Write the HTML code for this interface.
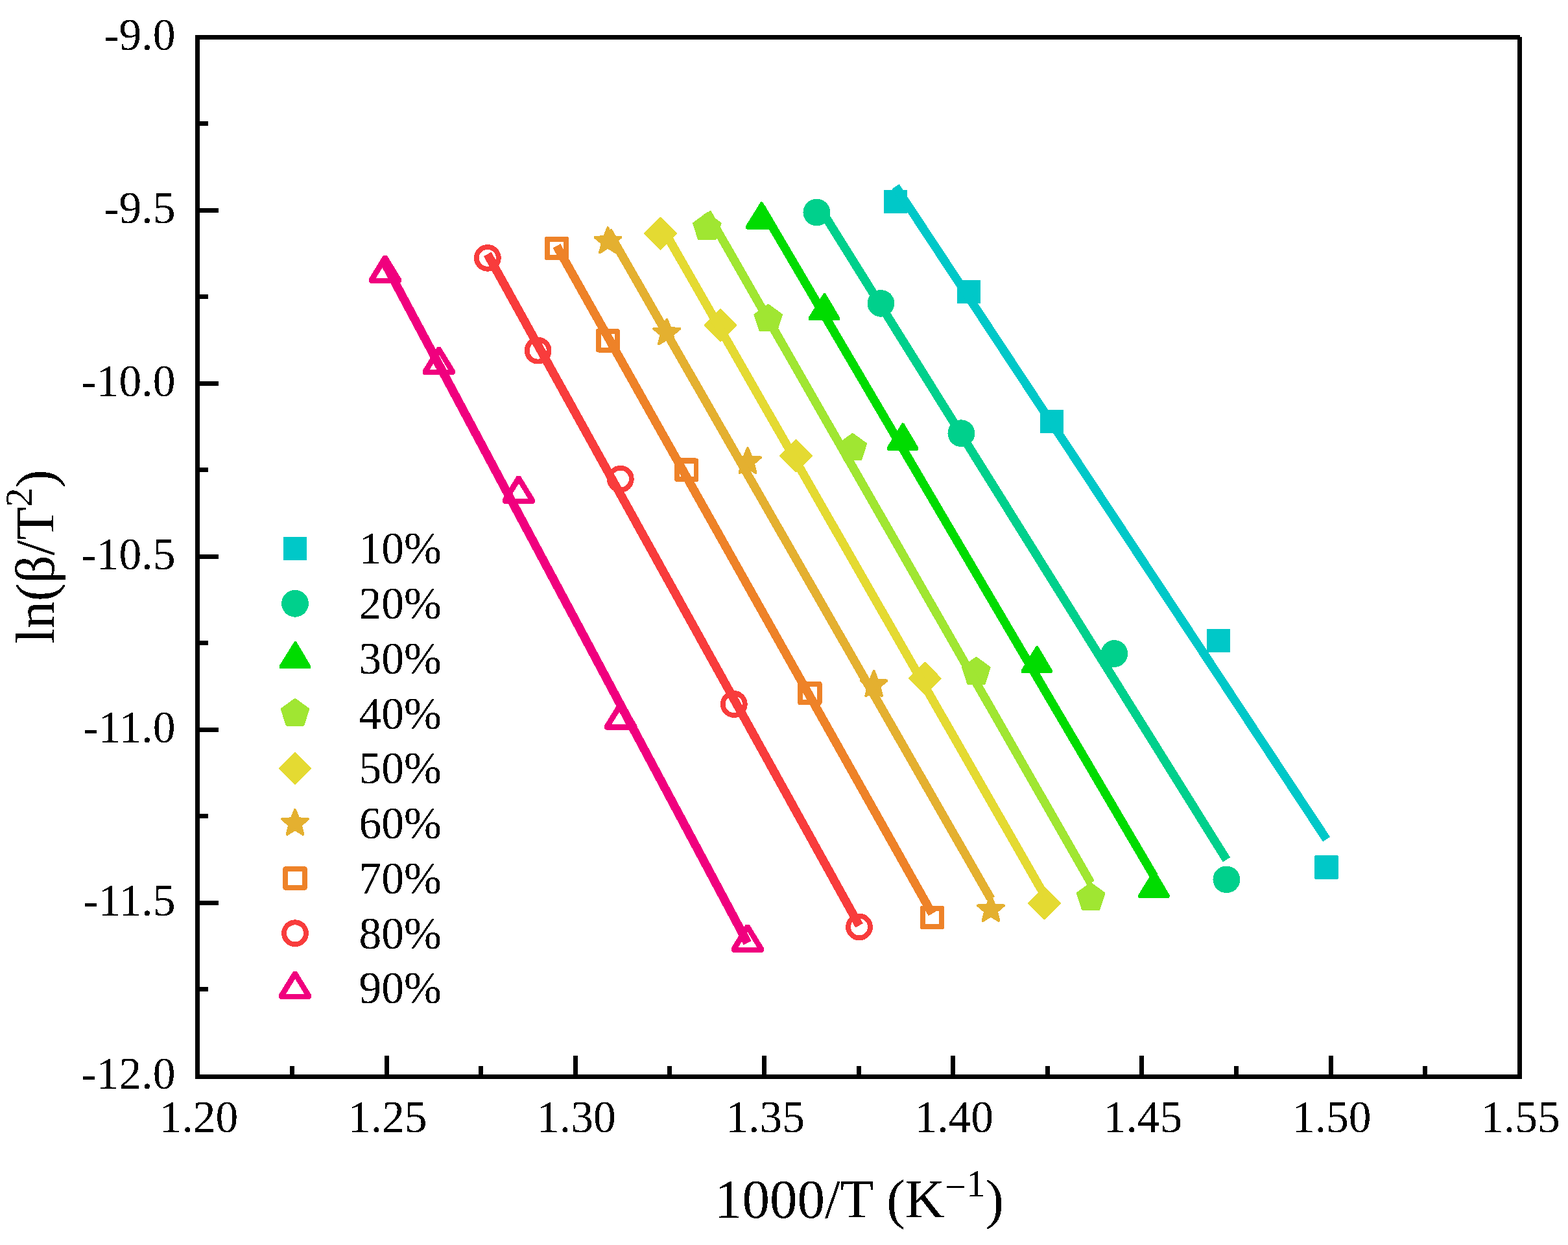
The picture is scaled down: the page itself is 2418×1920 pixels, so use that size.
<!DOCTYPE html><html><head><meta charset="utf-8"><style>html,body{margin:0;padding:0;background:#fff;}svg{display:block;}text{font-family:"Liberation Serif","Times New Roman",serif;fill:#000;}</style></head><body>
<svg width="2418" height="1920" viewBox="0 0 2418 1920">
<rect width="2418" height="1920" fill="#fff"/>
<defs><filter id="bin" filterUnits="userSpaceOnUse" x="0" y="0" width="2418" height="1920" color-interpolation-filters="sRGB"><feComponentTransfer><feFuncA type="discrete" tableValues="0 1"/></feComponentTransfer></filter></defs><g filter="url(#bin)">
<g><path d="M591,393.85 L596.7,393.85 L619,430.15 L619,434.55 L616.7,436.95 L571.1,436.95 L568.7,434.55 L568.7,430.15 Z M594.1,405.65 L608.2,428.95 L579.6,428.95 Z" fill="#F0007E" fill-rule="evenodd"/><path d="M673.9,535.15 L679.6,535.15 L701.9,571.45 L701.9,575.85 L699.6,578.25 L654,578.25 L651.6,575.85 L651.6,571.45 Z M677,546.95 L691.1,570.25 L662.5,570.25 Z" fill="#F0007E" fill-rule="evenodd"/><path d="M796.9,733.85 L802.6,733.85 L824.9,770.15 L824.9,774.55 L822.6,776.95 L777,776.95 L774.6,774.55 L774.6,770.15 Z M800,745.65 L814.1,768.95 L785.5,768.95 Z" fill="#F0007E" fill-rule="evenodd"/><path d="M954.4,1082.45 L960.1,1082.45 L982.4,1118.75 L982.4,1123.15 L980.1,1125.55 L934.5,1125.55 L932.1,1123.15 L932.1,1118.75 Z M957.5,1094.25 L971.6,1117.55 L943,1117.55 Z" fill="#F0007E" fill-rule="evenodd"/><path d="M1149.9,1425.65 L1155.6,1425.65 L1177.9,1461.95 L1177.9,1466.35 L1175.6,1468.75 L1130,1468.75 L1127.6,1466.35 L1127.6,1461.95 Z M1153,1437.45 L1167.1,1460.75 L1138.5,1460.75 Z" fill="#F0007E" fill-rule="evenodd"/><circle cx="751.8" cy="397.8" r="17" fill="none" stroke="#F83C3C" stroke-width="7.8"/><circle cx="829.6" cy="540.6" r="17" fill="none" stroke="#F83C3C" stroke-width="7.8"/><circle cx="956.8" cy="738.6" r="17" fill="none" stroke="#F83C3C" stroke-width="7.8"/><circle cx="1131.8" cy="1086" r="17" fill="none" stroke="#F83C3C" stroke-width="7.8"/><circle cx="1325" cy="1429.5" r="17" fill="none" stroke="#F83C3C" stroke-width="7.8"/><rect x="843.6" y="368.6" width="29.6" height="28.6" fill="none" stroke="#EE8228" stroke-width="7.8" stroke-linejoin="round"/><rect x="922.6" y="511" width="29.6" height="28.6" fill="none" stroke="#EE8228" stroke-width="7.8" stroke-linejoin="round"/><rect x="1043.9" y="710.5" width="29.6" height="28.6" fill="none" stroke="#EE8228" stroke-width="7.8" stroke-linejoin="round"/><rect x="1234.1" y="1054.8" width="29.6" height="28.6" fill="none" stroke="#EE8228" stroke-width="7.8" stroke-linejoin="round"/><rect x="1422.6" y="1400.7" width="29.6" height="28.6" fill="none" stroke="#EE8228" stroke-width="7.8" stroke-linejoin="round"/><polygon points="937.4,351.4 942.81,364.96 957.37,365.91 946.15,375.24 949.74,389.39 937.4,381.6 925.06,389.39 928.65,375.24 917.43,365.91 931.99,364.96" fill="#E4B030" stroke="#E4B030" stroke-width="4" stroke-linejoin="round"/><polygon points="1028.3,492.5 1033.71,506.06 1048.27,507.01 1037.05,516.34 1040.64,530.49 1028.3,522.7 1015.96,530.49 1019.55,516.34 1008.33,507.01 1022.89,506.06" fill="#E4B030" stroke="#E4B030" stroke-width="4" stroke-linejoin="round"/><polygon points="1153,691 1158.41,704.56 1172.97,705.51 1161.75,714.84 1165.34,728.99 1153,721.2 1140.66,728.99 1144.25,714.84 1133.03,705.51 1147.59,704.56" fill="#E4B030" stroke="#E4B030" stroke-width="4" stroke-linejoin="round"/><polygon points="1347.6,1035.1 1353.01,1048.66 1367.57,1049.61 1356.35,1058.94 1359.94,1073.09 1347.6,1065.3 1335.26,1073.09 1338.85,1058.94 1327.63,1049.61 1342.19,1048.66" fill="#E4B030" stroke="#E4B030" stroke-width="4" stroke-linejoin="round"/><polygon points="1528,1382 1533.41,1395.56 1547.97,1396.51 1536.75,1405.84 1540.34,1419.99 1528,1412.2 1515.66,1419.99 1519.25,1405.84 1508.03,1396.51 1522.59,1395.56" fill="#E4B030" stroke="#E4B030" stroke-width="4" stroke-linejoin="round"/><polygon points="1018.4,335.8 1042.9,360.3 1018.4,384.8 993.9,360.3" fill="#E4DA32" stroke="#E4DA32" stroke-width="2" stroke-linejoin="round"/><polygon points="1111,477.1 1135.5,501.6 1111,526.1 1086.5,501.6" fill="#E4DA32" stroke="#E4DA32" stroke-width="2" stroke-linejoin="round"/><polygon points="1227.5,678.2 1252,702.7 1227.5,727.2 1203,702.7" fill="#E4DA32" stroke="#E4DA32" stroke-width="2" stroke-linejoin="round"/><polygon points="1426.3,1021.7 1450.8,1046.2 1426.3,1070.7 1401.8,1046.2" fill="#E4DA32" stroke="#E4DA32" stroke-width="2" stroke-linejoin="round"/><polygon points="1610.5,1368.2 1635,1392.7 1610.5,1417.2 1586,1392.7" fill="#E4DA32" stroke="#E4DA32" stroke-width="2" stroke-linejoin="round"/><polygon points="1090.3,328.25 1111.98,344 1103.7,369.5 1076.9,369.5 1068.62,344" fill="#A0E632" stroke="#A0E632" stroke-width="1.5" stroke-linejoin="round"/><polygon points="1184.7,469.35 1206.38,485.1 1198.1,510.6 1171.3,510.6 1163.02,485.1" fill="#A0E632" stroke="#A0E632" stroke-width="1.5" stroke-linejoin="round"/><polygon points="1314.8,668.25 1336.48,684 1328.2,709.5 1301.4,709.5 1293.12,684" fill="#A0E632" stroke="#A0E632" stroke-width="1.5" stroke-linejoin="round"/><polygon points="1505.4,1013.45 1527.08,1029.2 1518.8,1054.7 1492,1054.7 1483.72,1029.2" fill="#A0E632" stroke="#A0E632" stroke-width="1.5" stroke-linejoin="round"/><polygon points="1682.1,1361.45 1703.78,1377.2 1695.5,1402.7 1668.7,1402.7 1660.42,1377.2" fill="#A0E632" stroke="#A0E632" stroke-width="1.5" stroke-linejoin="round"/><polygon points="1173,311.45 1175.9,311.45 1198,348.75 1198,352.45 1196.7,353.55 1151.2,353.55 1149.9,352.45 1149.9,348.75" fill="#00DC00"/><polygon points="1270,452.25 1272.9,452.25 1295,489.55 1295,493.25 1293.7,494.35 1248.2,494.35 1246.9,493.25 1246.9,489.55" fill="#00DC00"/><polygon points="1391,652.55 1393.9,652.55 1416,689.85 1416,693.55 1414.7,694.65 1369.2,694.65 1367.9,693.55 1367.9,689.85" fill="#00DC00"/><polygon points="1597.8,996.25 1600.7,996.25 1622.8,1033.55 1622.8,1037.25 1621.5,1038.35 1576,1038.35 1574.7,1037.25 1574.7,1033.55" fill="#00DC00"/><polygon points="1778.5,1342.65 1781.4,1342.65 1803.5,1379.95 1803.5,1383.65 1802.2,1384.75 1756.7,1384.75 1755.4,1383.65 1755.4,1379.95" fill="#00DC00"/><circle cx="1259.4" cy="327.5" r="20.9" fill="#00D08C"/><circle cx="1358.4" cy="467.8" r="20.9" fill="#00D08C"/><circle cx="1482.4" cy="668.2" r="20.9" fill="#00D08C"/><circle cx="1718.4" cy="1008" r="20.9" fill="#00D08C"/><circle cx="1891.4" cy="1356.3" r="20.9" fill="#00D08C"/><rect x="1363" y="293" width="36" height="36" fill="#00C8C8"/><rect x="1476.3" y="432.1" width="36" height="36" fill="#00C8C8"/><rect x="1604.4" y="632.1" width="36" height="36" fill="#00C8C8"/><rect x="1861" y="969.9" width="36" height="36" fill="#00C8C8"/><rect x="2027.5" y="1319.5" width="36" height="36" fill="#00C8C8"/></g>
<g><line x1="593.9" y1="406.95" x2="1152.8" y2="1454.03" stroke="#F0007E" stroke-width="13.4"/><line x1="751.8" y1="392.09" x2="1325" y2="1427.21" stroke="#F83C3C" stroke-width="13.4"/><line x1="858.4" y1="379.23" x2="1437.4" y2="1408.96" stroke="#EE8228" stroke-width="13.4"/><line x1="937.4" y1="355.77" x2="1528" y2="1386.1" stroke="#E4B030" stroke-width="13.4"/><line x1="1018.4" y1="345.88" x2="1610.5" y2="1380.29" stroke="#E4DA32" stroke-width="13.4"/><line x1="1090.3" y1="327.74" x2="1682.1" y2="1361.55" stroke="#A0E632" stroke-width="13.4"/><line x1="1174" y1="320.67" x2="1779.5" y2="1351.16" stroke="#00DC00" stroke-width="13.4"/><line x1="1259.4" y1="312.43" x2="1891.4" y2="1325.79" stroke="#00D08C" stroke-width="13.4"/><line x1="1381" y1="287.72" x2="2045.5" y2="1294.2" stroke="#00C8C8" stroke-width="13.4"/></g>
<g fill="#000"><rect x="301" y="54" width="2043" height="7"/><rect x="301" y="1657" width="2046" height="7"/><rect x="301" y="54" width="7" height="1610"/><rect x="2340" y="57" width="7" height="1607"/><rect x="301" y="187" width="20" height="7"/><rect x="301" y="321" width="36" height="7"/><rect x="301" y="454" width="20" height="7"/><rect x="301" y="588" width="36" height="7"/><rect x="301" y="721" width="20" height="7"/><rect x="301" y="855" width="36" height="7"/><rect x="301" y="988" width="20" height="7"/><rect x="301" y="1122" width="36" height="7"/><rect x="301" y="1255" width="20" height="7"/><rect x="301" y="1389" width="36" height="7"/><rect x="301" y="1522" width="20" height="7"/><rect x="447" y="1644" width="7" height="13"/><rect x="593" y="1628" width="7" height="29"/><rect x="738" y="1644" width="7" height="13"/><rect x="884" y="1628" width="7" height="29"/><rect x="1029" y="1644" width="7" height="13"/><rect x="1175" y="1628" width="7" height="29"/><rect x="1321" y="1644" width="7" height="13"/><rect x="1466" y="1628" width="7" height="29"/><rect x="1612" y="1644" width="7" height="13"/><rect x="1757" y="1628" width="7" height="29"/><rect x="1903" y="1644" width="7" height="13"/><rect x="2049" y="1628" width="7" height="29"/><rect x="2194" y="1644" width="7" height="13"/></g>
<g font-size="69.5"><text x="270.5" y="77" text-anchor="end">-9.0</text><text x="270.5" y="344" text-anchor="end">-9.5</text><text x="270.5" y="611" text-anchor="end">-10.0</text><text x="270.5" y="878" text-anchor="end">-10.5</text><text x="270.5" y="1145" text-anchor="end">-11.0</text><text x="270.5" y="1412" text-anchor="end">-11.5</text><text x="270.5" y="1679" text-anchor="end">-12.0</text><text x="306.5" y="1746" text-anchor="middle">1.20</text><text x="597.7" y="1746" text-anchor="middle">1.25</text><text x="888.9" y="1746" text-anchor="middle">1.30</text><text x="1180.1" y="1746" text-anchor="middle">1.35</text><text x="1471.3" y="1746" text-anchor="middle">1.40</text><text x="1762.5" y="1746" text-anchor="middle">1.45</text><text x="2053.7" y="1746" text-anchor="middle">1.50</text><text x="2344.9" y="1746" text-anchor="middle">1.55</text></g>
<g><rect x="437" y="828" width="36" height="36" fill="#00C8C8"/><text x="553.5" y="869.4" font-size="69.5">10%</text><circle cx="455" cy="930.75" r="20.9" fill="#00D08C"/><text x="553.5" y="954.15" font-size="69.5">20%</text><polygon points="454,989.2 456.9,989.2 479,1026.5 479,1030.2 477.7,1031.3 432.2,1031.3 430.9,1030.2 430.9,1026.5" fill="#00DC00"/><text x="553.5" y="1038.9" font-size="69.5">30%</text><polygon points="455,1077.45 476.68,1093.2 468.4,1118.7 441.6,1118.7 433.32,1093.2" fill="#A0E632" stroke="#A0E632" stroke-width="1.5" stroke-linejoin="round"/><text x="553.5" y="1123.65" font-size="69.5">40%</text><polygon points="455,1160.5 479.5,1185 455,1209.5 430.5,1185" fill="#E4DA32" stroke="#E4DA32" stroke-width="2" stroke-linejoin="round"/><text x="553.5" y="1208.4" font-size="69.5">50%</text><polygon points="455,1248.75 460.41,1262.31 474.97,1263.26 463.75,1272.59 467.34,1286.74 455,1278.95 442.66,1286.74 446.25,1272.59 435.03,1263.26 449.59,1262.31" fill="#E4B030" stroke="#E4B030" stroke-width="4" stroke-linejoin="round"/><text x="553.5" y="1293.15" font-size="69.5">60%</text><rect x="440.2" y="1340.2" width="29.6" height="28.6" fill="none" stroke="#EE8228" stroke-width="7.8" stroke-linejoin="round"/><text x="553.5" y="1377.9" font-size="69.5">70%</text><circle cx="455" cy="1439.25" r="17" fill="none" stroke="#F83C3C" stroke-width="7.8"/><text x="553.5" y="1462.65" font-size="69.5">80%</text><path d="M452.1,1497.9 L457.8,1497.9 L480.1,1534.2 L480.1,1538.6 L477.8,1541 L432.2,1541 L429.8,1538.6 L429.8,1534.2 Z M455.2,1509.7 L469.3,1533 L440.7,1533 Z" fill="#F0007E" fill-rule="evenodd"/><text x="553.5" y="1547.4" font-size="69.5">90%</text></g>
<text x="1102" y="1878" font-size="85">1000/T (K<tspan font-size="59" dy="-28.4">−</tspan><tspan font-size="59" dy="-5">1</tspan><tspan dy="33.4">)</tspan></text>
<text transform="translate(83,992.5) rotate(-90)" x="0" y="0" font-size="84">ln(β/T<tspan font-size="59" dy="-34">2</tspan><tspan dy="34">)</tspan></text>
</g>
</svg></body></html>
